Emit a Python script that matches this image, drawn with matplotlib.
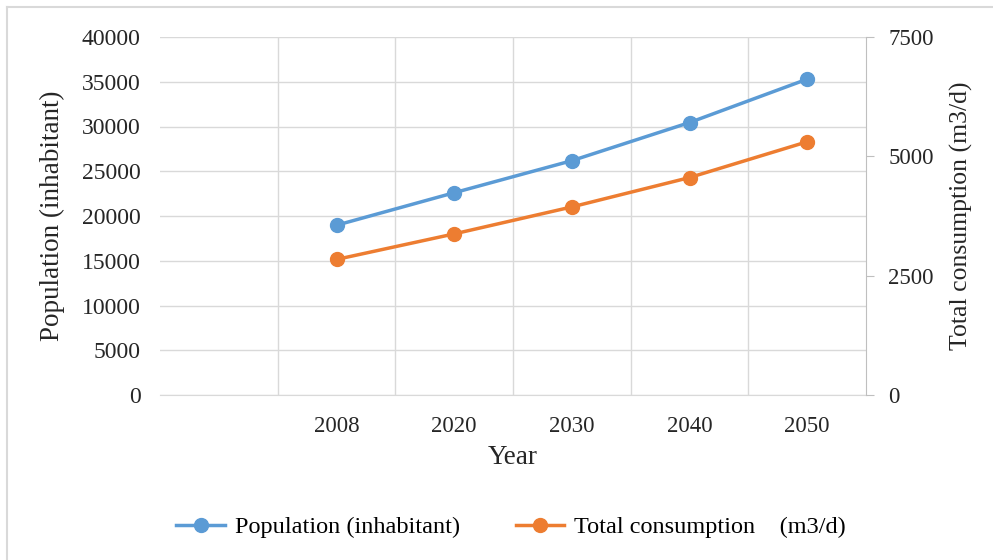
import matplotlib.pyplot as plt
from matplotlib.lines import Line2D

plt.rcParams['font.family'] = ['Liberation Serif', 'DejaVu Serif']

# Projection data (first category slot is left empty)
years = ["", "2008", "2020", "2030", "2040", "2050"]
population = [None, 18970, 22600, 26180, 30440, 35290]
consumption = [None, 2840, 3375, 3940, 4555, 5305]

blue = '#5B9BD5'
orange = '#ED7D31'
grid_c = '#D9D9D9'
text_c = '#262626'

fig = plt.figure(figsize=(9.93, 5.6), dpi=100)
ax = fig.add_axes([160 / 993, 1 - 395 / 560, 706 / 993, 358 / 560])
ax2 = ax.twinx()

x = list(range(len(years)))
xs = [i for i, v in zip(x, population) if v is not None]
pop = [v for v in population if v is not None]
cons = [v for v in consumption if v is not None]

ax.plot(xs, pop, color=blue, lw=2.5, marker='o', ms=10, zorder=3)
ax2.plot(xs, cons, color=orange, lw=2.5, marker='o', ms=10, zorder=3)

ax.set_xlim(-0.5, len(years) - 0.5)
ax.set_ylim(0, 40000)
ax.set_yticks(range(0, 40001, 5000))
ax2.set_ylim(0, 7500)
ax2.set_yticks([0, 2500, 5000, 7500])

ax.set_xticks(x)
ax.set_xticklabels(years)
ax.set_xticks([i + 0.5 for i in x[:-1]], minor=True)
ax.grid(True, which='major', axis='y', color=grid_c, lw=1)
ax.grid(True, which='minor', axis='x', color=grid_c, lw=1)
ax.set_axisbelow(True)

for a in (ax, ax2):
    for side in ('top', 'left', 'right'):
        a.spines[side].set_visible(False)
    a.spines['bottom'].set_color(grid_c)
ax2.spines['right'].set_visible(True)
ax2.spines['right'].set_color('#BFBFBF')
ax2.spines['bottom'].set_visible(False)

ax.tick_params(axis='x', which='both', length=0, labelsize=16.5, colors=text_c, pad=15)
ax.tick_params(axis='y', length=0, labelsize=17, colors=text_c, pad=14)
ax2.tick_params(axis='y', length=6, color='#BFBFBF', labelsize=16.5, colors=text_c, pad=10)
for lbl in ax2.get_yticklabels():
    lbl.set_color(text_c)

ax.set_xlabel("Year", fontsize=19.5, color=text_c, labelpad=6)
ax.set_ylabel("Population (inhabitant)", fontsize=19.5, color=text_c, labelpad=12)
ax2.set_ylabel("Total consumption (m3/d)", fontsize=18.5, color=text_c, labelpad=12)

handles = [
    Line2D([], [], color=blue, lw=2.5, marker='o', ms=10),
    Line2D([], [], color=orange, lw=2.5, marker='o', ms=10),
]
fig.legend(handles, ["Population (inhabitant)", "Total consumption    (m3/d)"],
           loc='center', bbox_to_anchor=(511 / 993, 1 - 527 / 560), ncol=2,
           frameon=False, fontsize=17.5, handlelength=2.0, columnspacing=2.3,
           handletextpad=0.4)

# Chart area border (top and left edges)
fig.add_artist(Line2D([7 / 993, 7 / 993], [0, 1 - 7 / 560], color=grid_c, lw=1.5,
                      transform=fig.transFigure))
fig.add_artist(Line2D([7 / 993, 1], [1 - 7 / 560, 1 - 7 / 560], color=grid_c, lw=1.5,
                      transform=fig.transFigure))

fig.savefig("out.png", dpi=100)
